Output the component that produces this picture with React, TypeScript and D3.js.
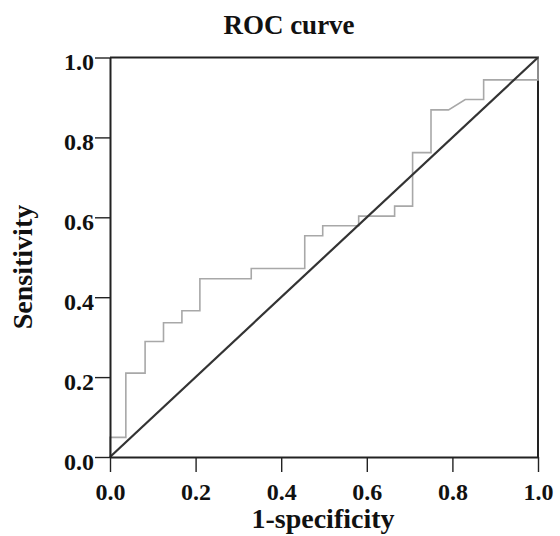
import React, { useEffect, useRef } from "react";
import * as d3 from "d3";

// ROC curve points (1-specificity, sensitivity)
const fpr = [0, 0, 0.037, 0.037, 0.082, 0.082, 0.125, 0.125, 0.168, 0.168, 0.21, 0.21, 0.33, 0.33, 0.455, 0.455, 0.497, 0.497, 0.581, 0.581, 0.665, 0.665, 0.707, 0.707, 0.75, 0.75, 0.791, 0.83, 0.873, 0.873, 1.0, 1.0];
const tpr = [0, 0.049, 0.049, 0.21, 0.21, 0.289, 0.289, 0.336, 0.336, 0.366, 0.366, 0.446, 0.446, 0.472, 0.472, 0.554, 0.554, 0.579, 0.579, 0.603, 0.603, 0.628, 0.628, 0.762, 0.762, 0.869, 0.869, 0.895, 0.895, 0.944, 0.944, 1.0];
const refLine = [0, 1];
const tickValues = [0, 0.2, 0.4, 0.6, 0.8, 1.0];
const title = "ROC curve";
const xLabel = "1-specificity";
const yLabel = "Sensitivity";

const W = 560;
const H = 536;
const FONT = "'Liberation Serif', 'Times New Roman', serif";

export default function App() {
  const ref = useRef<SVGSVGElement>(null);

  useEffect(() => {
    const svg = d3.select(ref.current);
    svg.selectAll("*").remove();

    const x = d3.scaleLinear().domain([0, 1]).range([110, 538]);
    const y = d3.scaleLinear().domain([0, 1]).range([457, 57.5]);

    svg.append("rect").attr("width", W).attr("height", H).attr("fill", "#fff");

    // frame top and right
    svg
      .append("path")
      .attr("d", `M${x(0)},${y(1)}H${x(1)}V${y(0)}`)
      .attr("fill", "none")
      .attr("stroke", "#222")
      .attr("stroke-width", 2);

    const line = d3
      .line<number>()
      .x((d, i) => x(fpr[i]))
      .y((d) => y(d));

    svg
      .append("path")
      .attr("d", line(tpr))
      .attr("fill", "none")
      .attr("stroke", "#a8a8a8")
      .attr("stroke-width", 1.6);

    svg
      .append("line")
      .attr("x1", x(refLine[0]))
      .attr("y1", y(refLine[0]))
      .attr("x2", x(refLine[1]))
      .attr("y2", y(refLine[1]))
      .attr("stroke", "#333")
      .attr("stroke-width", 2.2);

    const fmt = d3.format(".1f");

    const xAxis = svg
      .append("g")
      .attr("transform", `translate(0,${y(0)})`)
      .call(d3.axisBottom(x).tickValues(tickValues).tickFormat(fmt).tickSize(15).tickSizeOuter(0));
    xAxis.select(".domain").attr("stroke", "#222").attr("stroke-width", 2);
    xAxis.selectAll(".tick line").attr("stroke", "#222").attr("stroke-width", 1.4);
    xAxis
      .selectAll(".tick text")
      .attr("y", 26)
      .attr("dy", "0.71em")
      .attr("font-family", FONT)
      .attr("font-weight", "bold")
      .attr("font-size", 24)
      .attr("fill", "#111");

    const yAxis = svg
      .append("g")
      .attr("transform", `translate(${x(0)},0)`)
      .call(d3.axisLeft(y).tickValues(tickValues).tickFormat(fmt).tickSize(15).tickSizeOuter(0));
    yAxis.select(".domain").attr("stroke", "#222").attr("stroke-width", 2);
    yAxis.selectAll(".tick line").attr("stroke", "#222").attr("stroke-width", 1.4);
    yAxis
      .selectAll(".tick text")
      .attr("x", -16)
      .attr("dy", "0.5em")
      .attr("font-family", FONT)
      .attr("font-weight", "bold")
      .attr("font-size", 24)
      .attr("fill", "#111");

    svg
      .append("text")
      .attr("x", 289)
      .attr("y", 34)
      .attr("text-anchor", "middle")
      .attr("font-family", FONT)
      .attr("font-weight", "bold")
      .attr("font-size", 27)
      .attr("fill", "#111")
      .text(title);

    svg
      .append("text")
      .attr("x", 323)
      .attr("y", 528)
      .attr("text-anchor", "middle")
      .attr("font-family", FONT)
      .attr("font-weight", "bold")
      .attr("font-size", 28)
      .attr("fill", "#111")
      .text(xLabel);

    svg
      .append("text")
      .attr("transform", `translate(32,267) rotate(-90)`)
      .attr("text-anchor", "middle")
      .attr("font-family", FONT)
      .attr("font-weight", "bold")
      .attr("font-size", 28)
      .attr("fill", "#111")
      .text(yLabel);
  }, []);

  return (
    <svg
      ref={ref}
      width={W}
      height={H}
      style={{ position: "absolute", left: 0, top: 0, display: "block" }}
    />
  );
}
